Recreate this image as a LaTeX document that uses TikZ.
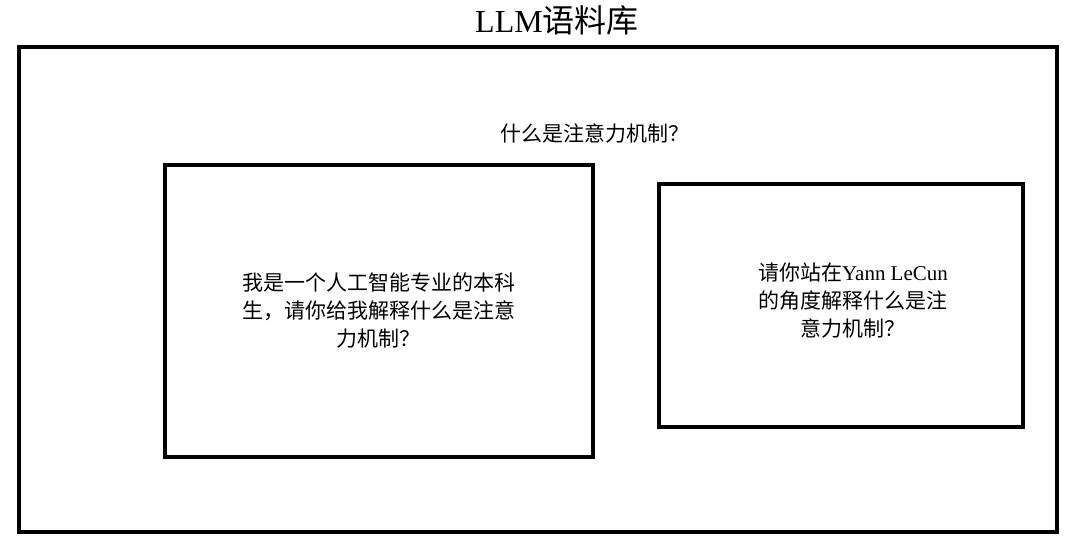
\documentclass[tikz,border=0pt]{standalone}
\usepackage{fontspec}
\setmainfont{Liberation Serif}
\newfontfamily\cjk{Noto Sans CJK SC}
\usetikzlibrary{positioning}

\begin{document}
\begin{tikzpicture}[x=1pt,y=-1pt,
    frame/.style={draw, line width=3.2pt, inner sep=0pt},
    words/.style={align=center, inner sep=0pt, font=\fontsize{21}{28}\selectfont}]
  \useasboundingbox (0,0) rectangle (1070,550);

  \node [font=\fontsize{32}{36}\selectfont, inner sep=0pt] (title) at (557,20) {LLM{\cjk 语料库}};

  \node [frame, minimum width=1038pt, minimum height=485pt] (corpus) at (538,289.5) {};

  \node [words] (ask) at (595,133) {\cjk 什么是注意力机制？};

  %%

  \node [frame, minimum width=428pt, minimum height=292pt] (student) at (379,311) {};
  \node [words] (studentq) at (378.5,311) {\cjk 我是一个人工智能专业的本科\\
    \cjk 生，请你给我解释什么是注意\\
    \cjk 力机制？};

  %%

  \node [frame, minimum width=364pt, minimum height=243pt] (lecun) at (841,305.5) {};
  \node [words] (lecunq) at (853,301) {{\cjk 请你站在}Yann LeCun\\
    \cjk 的角度解释什么是注\\
    \cjk 意力机制？};

\end{tikzpicture}
\end{document}
